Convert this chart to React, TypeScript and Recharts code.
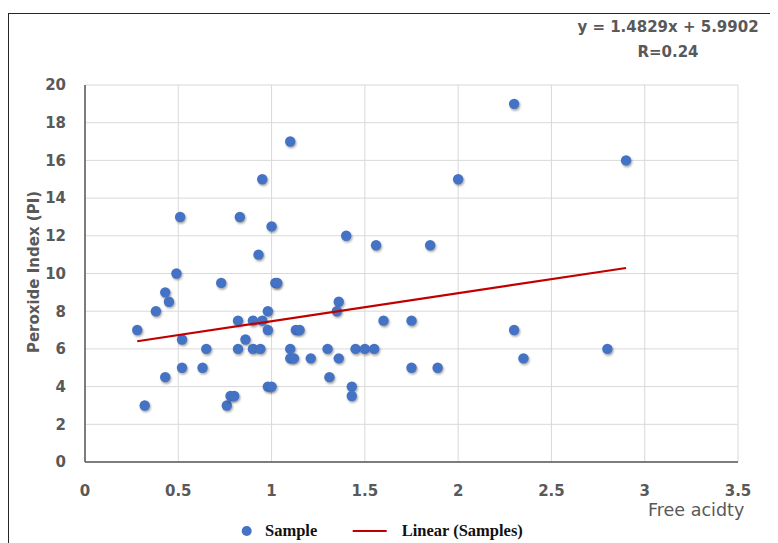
import React from 'react';
import { ScatterChart, Scatter, XAxis, YAxis, CartesianGrid } from 'recharts';

// Free acidity (x) and peroxide index (y)
const freeAcidity = [
  0.28, 0.32, 0.38, 0.43, 0.45, 0.43, 0.49, 0.51, 0.52, 0.52,
  0.63, 0.65, 0.73, 0.76, 0.78, 0.80, 0.82, 0.82, 0.83, 0.86,
  0.90, 0.90, 0.94, 0.93, 0.95, 0.95, 0.98, 0.98, 0.98, 1.00,
  1.00, 1.02, 1.03, 1.10, 1.10, 1.10, 1.12, 1.13, 1.15, 1.21,
  1.30, 1.31, 1.36, 1.35, 1.36, 1.40, 1.43, 1.43, 1.45, 1.50,
  1.55, 1.56, 1.60, 1.75, 1.75, 1.85, 1.89, 2.00, 2.30, 2.30,
  2.35, 2.80, 2.90,
];
const peroxideIndex = [
  7, 3, 8, 9, 8.5, 4.5, 10, 13, 6.5, 5,
  5, 6, 9.5, 3, 3.5, 3.5, 7.5, 6, 13, 6.5,
  7.5, 6, 6, 11, 15, 7.5, 8, 7, 4, 4,
  12.5, 9.5, 9.5, 17, 6, 5.5, 5.5, 7, 7, 5.5,
  6, 4.5, 8.5, 8, 5.5, 12, 4, 3.5, 6, 6,
  6, 11.5, 7.5, 7.5, 5, 11.5, 5, 15, 19, 7,
  5.5, 6, 16,
];

const xTicks = [0, 0.5, 1, 1.5, 2, 2.5, 3, 3.5];
const yTicks = [0, 2, 4, 6, 8, 10, 12, 14, 16, 18, 20];

// Trendline coefficients printed on the chart
const slope = 1.4829;
const intercept = 5.9902;
const equationText = 'y = 1.4829x + 5.9902';
const rText = 'R=0.24';

const samples = freeAcidity.map((x, i) => ({ x, y: peroxideIndex[i] }));
const xMin = Math.min(...freeAcidity);
const xMax = Math.max(...freeAcidity);
const trend = [
  { x: xMin, y: slope * xMin + intercept },
  { x: xMax, y: slope * xMax + intercept },
];

const DOT = '#4472C4';
const RED = '#C00000';
const GRAY = '#595959';

const Dot = (props: any) => {
  const { cx, cy } = props;
  if (cx == null || cy == null) return <g />;
  return (
    <g>
      <circle cx={cx + 1} cy={cy + 1.6} r={5.2} fill="rgba(0,0,0,0.35)" style={{ filter: 'blur(1.2px)' }} />
      <circle cx={cx} cy={cy} r={5.2} fill={DOT} />
    </g>
  );
};

const NoShape = () => <g />;

const tickStyle = { fontFamily: 'DejaVu Sans', fontWeight: 700, fontSize: 15, fill: GRAY };

export default function App() {
  return (
    <div style={{ position: 'relative', width: 770, height: 535 }}>
      <div
        style={{
          position: 'absolute',
          left: 0,
          top: 5,
          width: 770,
          height: 540,
          borderTop: '1.5px solid #262626',
          borderLeft: '1.5px solid #262626',
          boxSizing: 'border-box',
        }}
      />
      <div style={{ position: 'absolute', left: 0, top: 0 }}>
        <ScatterChart width={770} height={535} margin={{ top: 77, right: 40, bottom: 51, left: 17 }}>
          <CartesianGrid stroke="#d9d9d9" strokeWidth={1} />
          <XAxis
            type="number"
            dataKey="x"
            domain={[0, 3.5]}
            ticks={xTicks}
            interval={0}
            height={30}
            tickLine={false}
            tickSize={6}
            tickMargin={17}
            axisLine={{ stroke: GRAY, strokeWidth: 1.5 }}
            tick={tickStyle}
            allowDataOverflow
          />
          <YAxis
            type="number"
            dataKey="y"
            domain={[0, 20]}
            ticks={yTicks}
            interval={0}
            width={60}
            tickLine={false}
            tickSize={6}
            tickMargin={13}
            axisLine={{ stroke: GRAY, strokeWidth: 1.5 }}
            tick={tickStyle}
            allowDataOverflow
          />
          <Scatter name="Sample" data={samples} fill={DOT} shape={Dot} isAnimationActive={false} />
          <Scatter
            name="Linear (Samples)"
            data={trend}
            line={{ stroke: RED, strokeWidth: 2.2 }}
            shape={NoShape}
            isAnimationActive={false}
          />
        </ScatterChart>
      </div>

      {/* Equation */}
      <div
        style={{
          position: 'absolute', left: 560, top: 9, width: 200, lineHeight: '20px', textAlign: 'center',
          fontFamily: 'DejaVu Sans', fontWeight: 700, fontSize: 15, color: GRAY, whiteSpace: 'nowrap',
        }}
      >
        {equationText}
      </div>
      <div
        style={{
          position: 'absolute', left: 560, top: 34, width: 200, lineHeight: '20px', textAlign: 'center',
          fontFamily: 'DejaVu Sans', fontWeight: 700, fontSize: 15, color: GRAY, whiteSpace: 'nowrap',
        }}
      >
        {rText}
      </div>

      {/* Y axis title */}
      <div
        style={{
          position: 'absolute', left: 25.5 - 150, top: 263.6 - 10, width: 300, height: 20, lineHeight: '20px',
          textAlign: 'center', transform: 'rotate(-90deg)', fontFamily: 'DejaVu Sans', fontWeight: 700,
          fontSize: 15, color: GRAY, whiteSpace: 'nowrap',
        }}
      >
        Peroxide Index (PI)
      </div>

      {/* X axis title */}
      <div
        style={{
          position: 'absolute', left: 640, top: 492, lineHeight: '20px', fontFamily: 'DejaVu Sans',
          fontSize: 17.5, color: GRAY, whiteSpace: 'nowrap',
        }}
      >
        Free acidty
      </div>

      {/* Legend */}
      <svg style={{ position: 'absolute', left: 0, top: 510 }} width={770} height={25}>
        <circle cx={238.7} cy={13} r={5} fill={DOT} />
        <line x1={344.7} x2={378.7} y1={13} y2={13} stroke={RED} strokeWidth={2.2} />
      </svg>
      <div
        style={{
          position: 'absolute', left: 257, top: 513, lineHeight: '20px', fontFamily: 'Liberation Serif',
          fontWeight: 700, fontSize: 16.5, color: '#111', whiteSpace: 'nowrap',
        }}
      >
        Sample
      </div>
      <div
        style={{
          position: 'absolute', left: 393.7, top: 513, lineHeight: '20px', fontFamily: 'Liberation Serif',
          fontWeight: 700, fontSize: 16.5, color: '#111', whiteSpace: 'nowrap',
        }}
      >
        Linear (Samples)
      </div>
    </div>
  );
}
